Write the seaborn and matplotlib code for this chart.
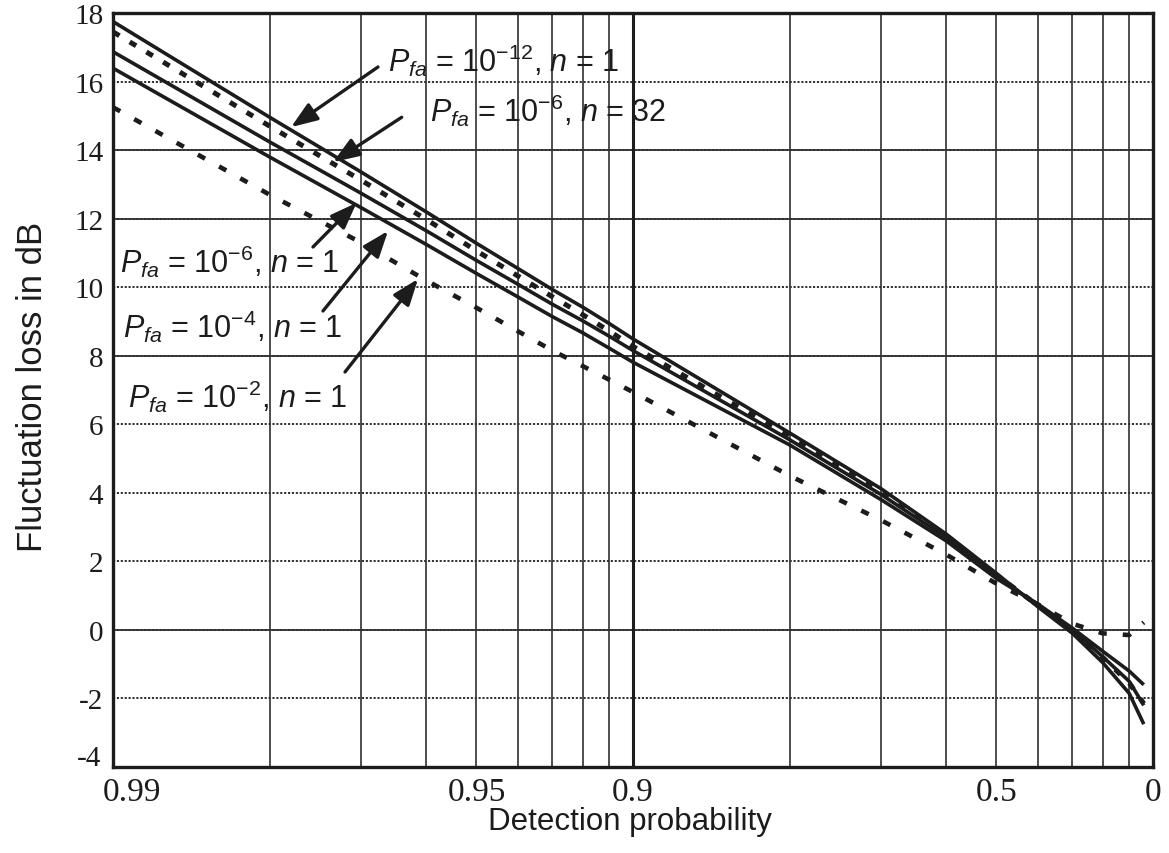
import numpy as np
import pandas as pd
import matplotlib
matplotlib.use("Agg")
import matplotlib.pyplot as plt
import matplotlib.transforms as mtransforms
from matplotlib.ticker import FixedLocator, NullFormatter
import seaborn as sns

# ---------------- data ----------------
detection_prob = [0.99, 0.98, 0.97, 0.96, 0.95, 0.94, 0.93, 0.92, 0.91, 0.90,
                  0.80, 0.70, 0.60, 0.50, 0.40, 0.30, 0.20, 0.10, 0.04]
loss_pfa12_n1 = [17.75, 14.96, 13.36, 12.20, 11.28, 10.55, 9.93, 9.42, 8.94, 8.49,
                 5.75, 4.12, 2.80, 1.65, 0.68, -0.10, -0.95, -1.85, -2.75]
loss_pfa6_n32 = [17.45, 14.70, 13.12, 11.98, 11.06, 10.33, 9.72, 9.20, 8.72, 8.27,
                 5.65, 4.05, 2.75, 1.60, 0.72, -0.02, -0.80, -1.55, -2.15]
loss_pfa6_n1 = [16.87, 14.24, 12.74, 11.65, 10.78, 10.09, 9.50, 9.02, 8.57, 8.15,
                5.55, 3.95, 2.70, 1.55, 0.74, 0.00, -0.78, -1.50, -2.20]
loss_pfa4_n1 = [16.39, 13.80, 12.32, 11.25, 10.40, 9.72, 9.14, 8.67, 8.22, 7.81,
                5.40, 3.80, 2.60, 1.50, 0.76, 0.05, -0.62, -1.20, -1.60]
loss_pfa2_n1 = [15.25, 12.70, 11.30, 10.20, 9.40, 8.72, 8.15, 7.70, 7.30, 6.94,
                4.50, 3.20, 2.20, 1.35, 0.75, 0.18, -0.10, -0.15, 0.22]

curve_names = ["pfa12_n1", "pfa6_n32", "pfa6_n1", "pfa4_n1", "pfa2_n1"]
curve_values = [loss_pfa12_n1, loss_pfa6_n32, loss_pfa6_n1, loss_pfa4_n1, loss_pfa2_n1]
curve_labels = [r"$P_{fa}$ = 10$^{-12}$, $n$ = 1",
                r"$P_{fa}$ = 10$^{-6}$, $n$ = 32",
                r"$P_{fa}$ = 10$^{-6}$, $n$ = 1",
                r"$P_{fa}$ = 10$^{-4}$, $n$ = 1",
                r"$P_{fa}$ = 10$^{-2}$, $n$ = 1"]

x_tick_pd = [0.99, 0.95, 0.9, 0.5, 0.0]
x_tick_labels = ["0.99", "0.95", "0.9", "0.5", "0"]
x_grid_pd = [0.98, 0.97, 0.96, 0.94, 0.93, 0.92, 0.91, 0.8, 0.7, 0.6, 0.4, 0.3, 0.2, 0.1]
y_ticks = [-4, -2, 0, 2, 4, 6, 8, 10, 12, 14, 16, 18]
y_solid_grid = [0, 8, 12, 14]

# ---------------- styles / layout ----------------
INK = "#1c1c1c"
GRID = "#303030"
styles = {
    "pfa12_n1": dict(lw=2.6, ls="-"),
    "pfa6_n32": dict(lw=3.6, ls=(0, (1.5, 2.4))),
    "pfa6_n1": dict(lw=2.6, ls="-"),
    "pfa4_n1": dict(lw=2.6, ls="-"),
    "pfa2_n1": dict(lw=3.3, ls=(0, (1.8, 3.5))),
}
# text position (axes fraction, baseline-left), arrow tail (axes fraction), arrow tip (Pd, loss)
annot_layout = {
    "pfa12_n1": dict(text=(0.2644, 0.923), tail=(0.2548, 0.9284), tip=(0.978, 14.67)),
    "pfa6_n32": dict(text=(0.3048, 0.8568), tail=(0.2776, 0.8617), tip=(0.9735, 13.65)),
    "pfa6_n1": dict(text=(0.0067, 0.6565), tail=(0.1923, 0.6897), tip=(0.9706, 12.46)),
    "pfa4_n1": dict(text=(0.0096, 0.5703), tail=(0.2019, 0.6048), tip=(0.9662, 11.64)),
    "pfa2_n1": dict(text=(0.0144, 0.4775), tail=(0.2231, 0.5239), tip=(0.9614, 10.24)),
}

sns.set_theme(style="white")
plt.rcParams["font.family"] = ["Liberation Sans", "DejaVu Sans"]
plt.rcParams["mathtext.fontset"] = "custom"
plt.rcParams["mathtext.rm"] = "Liberation Sans"
plt.rcParams["mathtext.it"] = "Liberation Sans:italic"
plt.rcParams["mathtext.bf"] = "Liberation Sans:bold"

rows = []
for name, vals in zip(curve_names, curve_values):
    for p, v in zip(detection_prob, vals):
        rows.append({"curve": name, "pd": p, "miss": 1.0 - p, "loss": v})
df = pd.DataFrame(rows)

fig = plt.figure(figsize=(11.69, 8.54), dpi=100)
ax = fig.add_axes([113 / 1169, 86 / 854, 1040 / 1169, 754 / 854])
ax.set_xscale("log")

for name in curve_names:
    sub = df[df["curve"] == name]
    st = styles[name]
    sns.lineplot(data=sub, x="miss", y="loss", ax=ax, color=INK, linewidth=st["lw"],
                 linestyle=st["ls"], estimator=None, sort=True, zorder=5,
                 legend=False)
for line in ax.get_lines():
    line.set_dash_capstyle("butt")
    line.set_solid_capstyle("butt")

ax.set_xlim(0.01, 1.0)
ax.set_ylim(-4, 18)

ax.set_xticks([1.0 - p for p in x_tick_pd])
ax.set_xticklabels(x_tick_labels)
ax.xaxis.set_minor_locator(FixedLocator([1.0 - p for p in x_grid_pd]))
ax.xaxis.set_minor_formatter(NullFormatter())
ax.set_yticks(y_ticks)
ax.set_yticklabels([str(v) for v in y_ticks])

# grid
ax.grid(which="both", axis="x", color=GRID, lw=1.2, ls="-", zorder=1)
ax.grid(which="major", axis="y", color=GRID, lw=1.4, ls=(0, (1.1, 0.9)), zorder=1)
for yv in y_solid_grid:
    ax.axhline(yv, color=GRID, lw=1.3, zorder=1.1)
ax.axvline(1.0 - x_tick_pd[2], color=INK, lw=2.2, zorder=1.2)
ax.set_axisbelow(True)

for sp in ax.spines.values():
    sp.set_visible(True)
    sp.set_color(INK)
    sp.set_linewidth(2.4)

serif = ["Liberation Serif", "DejaVu Serif"]
ax.tick_params(axis="both", which="both", length=0)
ax.tick_params(axis="y", pad=7)
ax.tick_params(axis="x", pad=7)
for lbl in ax.get_xticklabels():
    lbl.set_fontfamily(serif)
    lbl.set_fontsize(24)
    lbl.set_color(INK)
for lbl in ax.get_yticklabels():
    lbl.set_fontfamily(serif)
    lbl.set_fontsize(21)
    lbl.set_color(INK)

xl = ax.get_xticklabels()[0]
xl.set_transform(xl.get_transform() + mtransforms.ScaledTranslation(0.19, 0, fig.dpi_scale_trans))
yl = ax.get_yticklabels()[0]
yl.set_transform(yl.get_transform() + mtransforms.ScaledTranslation(-0.02, 0.12, fig.dpi_scale_trans))

ax.set_xlabel("Detection probability", fontsize=22.5, color=INK)
ax.set_ylabel("Fluctuation loss in dB", fontsize=25, color=INK)
ax.xaxis.set_label_coords(0.497, -0.052)
ax.yaxis.set_label_coords(-0.062, 0.505)

for name, lab in zip(curve_names, curve_labels):
    lay = annot_layout[name]
    ax.text(lay["text"][0], lay["text"][1], lab, transform=ax.transAxes,
            fontsize=22, color=INK, ha="left", va="baseline", zorder=6)
    tp, tl = lay["tip"]
    ax.annotate("", xy=(1.0 - tp, tl), xycoords="data",
                xytext=lay["tail"], textcoords="axes fraction",
                arrowprops=dict(arrowstyle="-|>,head_length=0.8,head_width=0.3",
                                mutation_scale=20, lw=2.4, color=INK,
                                shrinkA=0, shrinkB=0),
                zorder=7)

fig.savefig("out.png", dpi=100, facecolor="white")
